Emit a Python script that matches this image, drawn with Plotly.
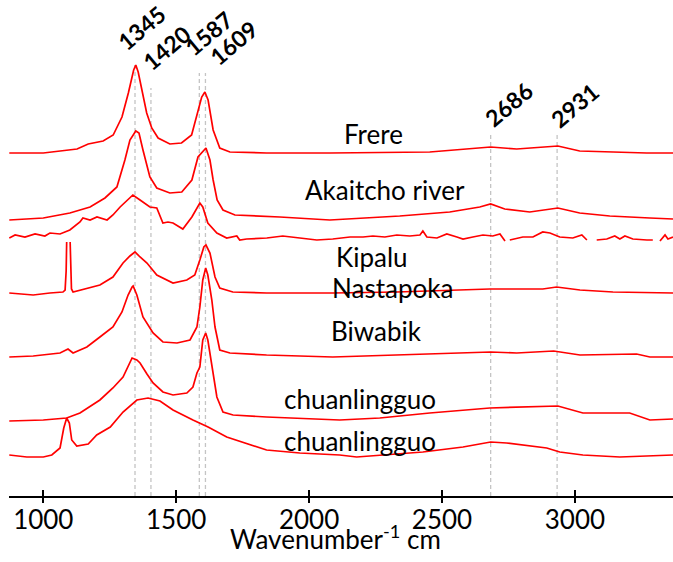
import plotly.graph_objects as go

# ---------------- data ----------------
frere_x = [872, 1000, 1127, 1169, 1225, 1263, 1296, 1320, 1340, 1348, 1357, 1370, 1389, 1408, 1432,
           1476, 1520, 1558, 1582, 1596, 1608, 1620, 1639, 1664, 1702, 1840, 2078, 2454, 2683, 2781,
           2936, 3018, 3270, 3369]
frere_y = [343, 343, 347, 352, 355, 361, 379, 403, 426, 431, 424, 408, 383, 368, 358,
           352, 353, 361, 386, 399, 404, 396, 366, 348, 344, 343, 343, 344, 349, 347,
           350, 345, 343, 343]

akaitcho_x = [872, 1000, 1100, 1176, 1232, 1277, 1307, 1326, 1348, 1360, 1375, 1401, 1427, 1476,
              1521, 1559, 1582, 1597, 1612, 1627, 1639, 1654, 1676, 1721, 1890, 2078, 2341, 2529,
              2642, 2683, 2736, 2830, 2936, 3018, 3131, 3282, 3369]
akaitcho_y = [276, 278, 283, 289, 298, 309, 336, 356, 365, 363, 346, 319, 308, 303,
              304, 316, 339, 344, 348, 336, 316, 296, 286, 281, 279, 276, 280, 284,
              289, 292, 287, 284, 288, 283, 280, 278, 277]

kipalu_x = [872, 894, 931, 969, 1006, 1025, 1063, 1100, 1138, 1149, 1176, 1202, 1240, 1262, 1289,
            1315, 1337, 1364, 1401, 1427, 1450, 1469, 1488, 1525, 1559, 1589, 1600, 1619, 1653,
            1690, 1728, 1739, 1765, 1841, 1901, 1965, 2029, 2089, 2154, 2203, 2240, 2285, 2330,
            2379, 2417, 2428, 2443, 2481, 2518, 2556, 2579, 2616, 2654, 2691, 2718, 2737, 2745,
            2755, 2804, 2842, 2879, 2906, 2943, 2992, 3026, 3045, 3064, 3082, 3120, 3150, 3169,
            3188, 3218, 3271, 3293, 3305, 3320, 3339, 3350, 3369]
kipalu_y = [258, 261, 259, 262, 260, 263, 262, 266, 274, 278, 276, 279, 276, 281, 289,
            296, 301, 296, 289, 288, 273, 274, 273, 267, 279, 293, 289, 273, 263,
            258, 260, 256, 257, 258, 260, 258, 256, 257, 259, 259, 260, 259, 261,
            260, 261, 265, 259, 258, 262, 259, 257, 259, 261, 260, 262, 255, None,
            256, 259, 259, 264, 263, 259, 258, 261, 256, None, 256, 257, 260, 257,
            260, 257, 256, 256, None, 255, 261, 257, 259]

nastapoka_x = [872, 962, 1025, 1074, 1082, 1086, 1088, 1094, 1101, 1103, 1106, 1112, 1164, 1213,
               1262, 1300, 1326, 1345, 1364, 1390, 1427, 1465, 1488, 1540, 1570, 1589, 1604,
               1612, 1627, 1646, 1664, 1713, 1840, 2089, 2330, 2680, 2879, 2931, 3019, 3143, 3369]
# the clipped double spike near 1090 is open at the top (None gap)
nastapoka_y = [203, 201, 203, 204, 206, 225, 254, None, 254, 225, 207, 204, 208, 211,
               219, 233, 240, 244, 239, 233, 221, 216, 213, 216, 221, 236, 249,
               251, 243, 219, 208, 204, 203, 203, 204, 207, 207, 209, 206, 204, 203]

biwabik_x = [872, 962, 1063, 1093, 1112, 1164, 1213, 1262, 1296, 1319, 1334, 1338, 1352, 1375,
             1413, 1450, 1503, 1552, 1578, 1589, 1600, 1611, 1619, 1634, 1646, 1664, 1702, 1840,
             2089, 2330, 2605, 2683, 2781, 2920, 3019, 3232, 3282, 3369]
biwabik_y = [139, 140, 143, 147, 143, 149, 159, 169, 184, 201, 209, 210, 201, 179,
             163, 154, 153, 156, 169, 189, 216, 228, 221, 196, 169, 146, 143, 141,
             139, 141, 144, 144, 143, 145, 141, 142, 139, 139]

chuan1_x = [872, 1000, 1088, 1138, 1213, 1262, 1300, 1319, 1334, 1352, 1364, 1390, 1413, 1450,
            1488, 1540, 1563, 1578, 1589, 1600, 1611, 1619, 1634, 1653, 1676, 1714, 1840, 2115,
            2266, 2454, 2680, 2830, 2936, 3030, 3206, 3282, 3369]
chuan1_y = [75, 76, 78, 83, 96, 108, 119, 129, 138, 136, 133, 122, 113, 104,
            101, 103, 109, 123, 129, 156, 163, 156, 129, 99, 84, 81, 79, 76,
            78, 83, 88, 89, 90, 83, 83, 76, 77]

chuan2_x = [872, 938, 1000, 1032, 1063, 1077, 1088, 1098, 1107, 1126, 1169, 1201, 1252, 1300,
            1352, 1394, 1439, 1488, 1563, 1620, 1690, 1777, 1840, 1965, 2115, 2179, 2428, 2579,
            2683, 2743, 2894, 2943, 3030, 3169, 3331, 3369]
chuan2_y = [41, 39, 39, 41, 48, 68, 78, 73, 56, 50, 52, 61, 69, 84,
            96, 98, 95, 86, 76, 69, 59, 51, 46, 43, 41, 39, 44, 49,
            54, 53, 48, 44, 41, 39, 41, 41]

series = [
    (frere_x, frere_y),
    (akaitcho_x, akaitcho_y),
    (kipalu_x, kipalu_y),
    (nastapoka_x, nastapoka_y),
    (biwabik_x, biwabik_y),
    (chuan1_x, chuan1_y),
    (chuan2_x, chuan2_y),
]

sample_names = ["Frere", "Akaitcho river", "Kipalu", "Nastapoka", "Biwabik",
                "chuanlingguo", "chuanlingguo"]
name_x = [2244, 2285, 2236, 2315, 2255, 2191, 2191]
name_y = [362, 306, 239, 208, 165, 97, 55]

peak_labels = ["1345", "1420", "1587", "1609", "2686", "2931"]
peak_pos = [1345, 1405, 1587, 1610, 2683, 2933]
peak_line_top = [434, 408, 423, 423, 364, 364]
peak_label_x = [1368, 1462, 1623, 1714, 2752, 3000]
peak_label_y = [468, 448, 463, 453, 392, 391]

tick_vals = [1000, 1500, 2000, 2500, 3000]
x_title = "Wavenumber<sup>-1</sup> cm"

# ---------------- figure ----------------
fig = go.Figure()

for xs, ys in series:
    fig.add_trace(go.Scatter(x=xs, y=ys, mode="lines",
                             line=dict(color="#ff0000", width=1.7),
                             showlegend=False, hoverinfo="skip"))

for p, top in zip(peak_pos, peak_line_top):
    fig.add_shape(type="line", xref="x", yref="y", x0=p, x1=p, y0=0, y1=top,
                  line=dict(color="#c4c4c4", width=1.3, dash="4px,3px"), layer="below")

for t, x, y in zip(peak_labels, peak_label_x, peak_label_y):
    fig.add_annotation(x=x, y=y, xref="x", yref="y", text="<b>" + t + "</b>",
                       textangle=-40, showarrow=False,
                       font=dict(family="Lato", size=23, color="black"))

for t, x, y in zip(sample_names, name_x, name_y):
    fig.add_annotation(x=x, y=y, xref="x", yref="y", text=t, showarrow=False,
                       font=dict(family="Lato", size=26, color="black"))

# axis title
fig.add_annotation(x=0.491, y=-0.084, xref="paper", yref="paper", text=x_title,
                   showarrow=False, xanchor="center", yanchor="middle",
                   font=dict(family="Lato", size=26, color="black"))

xrange = [871, 3369]
fig.update_layout(
    width=673, height=562,
    margin=dict(l=9, r=0, t=0, b=66, autoexpand=False),
    paper_bgcolor="white", plot_bgcolor="white",
    font=dict(family="Lato", color="black"),
    # main axis: line, labels and the upper half of the crossing ticks
    xaxis=dict(range=xrange, showline=True, linecolor="black", linewidth=2,
               ticks="inside", ticklen=6, tickwidth=2, tickcolor="black",
               tickvals=tick_vals, showgrid=False, zeroline=False, automargin=False,
               tickfont=dict(family="Lato", size=26, color="black")),
    # overlay axis: lower half of the crossing ticks
    xaxis2=dict(range=xrange, overlaying="x", side="bottom", anchor="y",
                ticks="outside", ticklen=6, tickwidth=2, tickcolor="black",
                tickvals=tick_vals, showticklabels=False, showgrid=False,
                zeroline=False, showline=False),
    yaxis=dict(range=[0, 496], visible=False, fixedrange=True),
)
# dummy trace to activate the overlay axis
fig.add_trace(go.Scatter(x=[None], y=[None], xaxis="x2", showlegend=False, hoverinfo="skip"))

fig.write_html("out.html", config={"displayModeBar": False},
               post_script="document.body.style.margin='0';document.body.style.overflow='hidden';")
